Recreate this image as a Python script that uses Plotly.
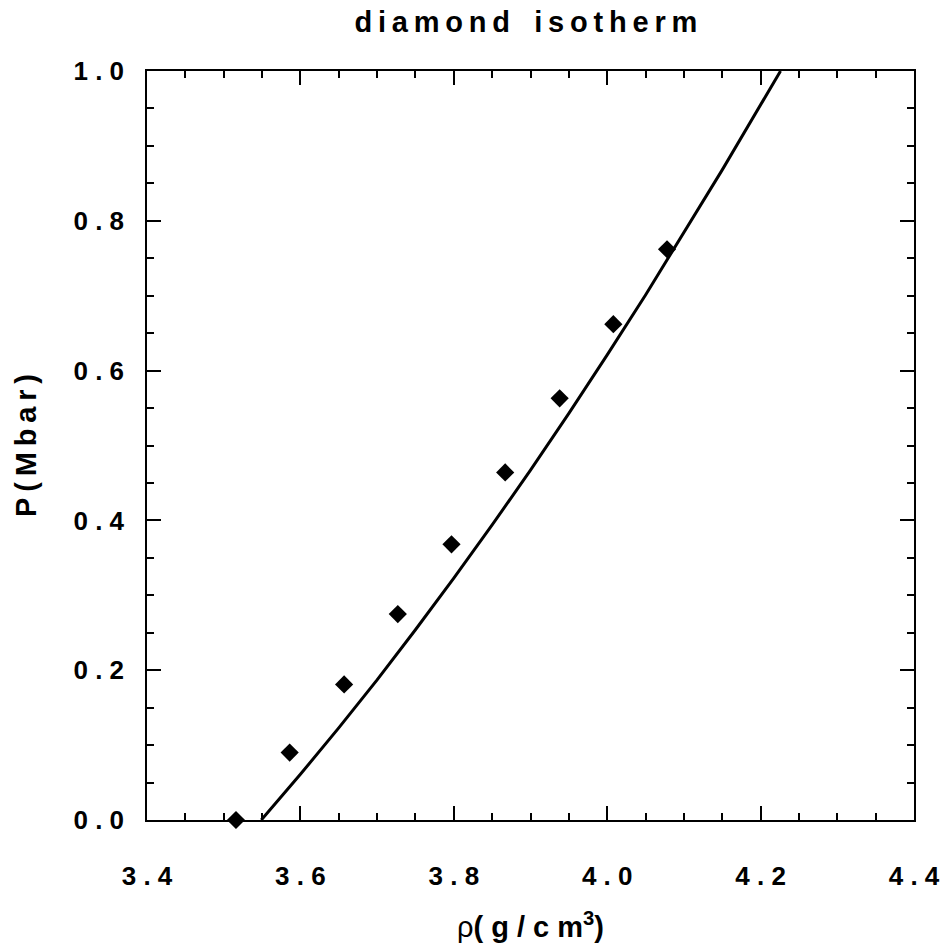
import plotly.graph_objects as go

# Data points (diamonds)
rho_data = [3.516, 3.586, 3.657, 3.727, 3.797, 3.867, 3.938, 4.008, 4.078]
p_data = [0.000, 0.090, 0.181, 0.275, 0.368, 0.464, 0.563, 0.662, 0.762]

# Isotherm curve
rho_curve = [3.549, 3.60, 3.65, 3.70, 3.75, 3.80, 3.85, 3.90, 3.95, 4.00, 4.05, 4.10, 4.15, 4.226]
p_curve = [0.000, 0.061, 0.123, 0.187, 0.254, 0.323, 0.394, 0.467, 0.543, 0.621, 0.701, 0.784, 0.868, 1.000]

x_ticks = [3.4, 3.6, 3.8, 4.0, 4.2, 4.4]
x_ticktext = ["3 . 4", "3 . 6", "3 . 8", "4 . 0", "4 . 2", "4 . 4"]
y_ticks = [0.0, 0.2, 0.4, 0.6, 0.8, 1.0]
y_ticktext = ["0 . 0", "0 . 2", "0 . 4", "0 . 6", "0 . 8", "1 . 0"]

title_text = "d\u2009i\u2009a\u2009m\u2009o\u2009n\u2009d   i\u2009s\u2009o\u2009t\u2009h\u2009e\u2009r\u2009m"
xtitle = "ρ<b>( g / c m<sup>3</sup>)</b>"
ytitle = "<b>P\u2009(\u2009M\u2009b\u2009a\u2009r\u2009)</b>"

FONT = "Liberation Sans, Arial, sans-serif"

fig = go.Figure()
fig.add_trace(go.Scatter(
    x=rho_curve, y=p_curve, mode="lines",
    line=dict(color="black", width=3),
    showlegend=False, cliponaxis=False,
))
fig.add_trace(go.Scatter(
    x=rho_data, y=p_data, mode="markers",
    marker=dict(symbol="diamond", size=14, color="black"),
    showlegend=False, cliponaxis=False,
))

axis_common = dict(
    showgrid=False, zeroline=False,
    showline=True, linecolor="black", linewidth=1.5, mirror="ticks",
    ticks="inside", ticklen=14, tickwidth=1.5, tickcolor="black",
    ticklabeloverflow="allow",
    tickfont=dict(family=FONT, size=26, color="black", weight="bold"),
)

fig.update_xaxes(
    range=[3.4, 4.4], tickmode="array", tickvals=x_ticks, ticktext=x_ticktext,
    minor=dict(tick0=3.4, dtick=0.05, ticks="inside", ticklen=7, tickwidth=1.5, tickcolor="black"),
    ticklabelstandoff=32,
    title=dict(text=xtitle, standoff=27, font=dict(family=FONT, size=29, color="black")),
    **axis_common,
)
fig.update_yaxes(
    range=[0, 1.0], tickmode="array", tickvals=y_ticks, ticktext=y_ticktext,
    minor=dict(tick0=0, dtick=0.05, ticks="inside", ticklen=7, tickwidth=1.5, tickcolor="black"),
    ticklabelstandoff=16,
    title=dict(text=ytitle, standoff=28, font=dict(family=FONT, size=29, color="black")),
    **axis_common,
)

fig.update_layout(
    width=946, height=950,
    margin=dict(l=147, r=32, t=71, b=130, autoexpand=False),
    plot_bgcolor="white", paper_bgcolor="white",
    title=dict(text=title_text, x=0.494, xanchor="center", y=0.977, yanchor="middle",
               xref="paper",
               font=dict(family=FONT, size=29, color="black", weight="bold")),
)

fig.write_html(
    "out.html",
    config={"displayModeBar": False},
    post_script="document.body.style.margin='0';document.body.style.overflow='hidden';",
)
